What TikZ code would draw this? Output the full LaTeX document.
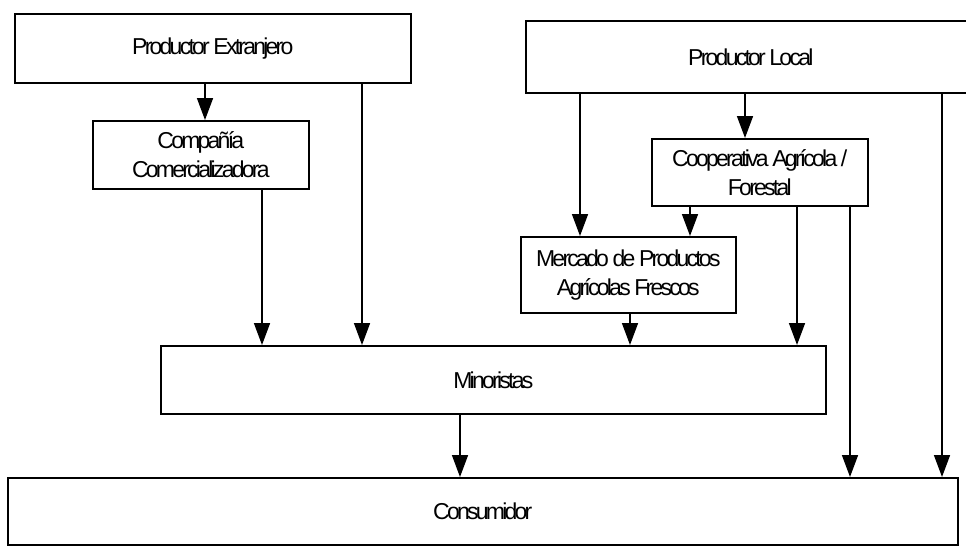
\documentclass[tikz,border=0pt]{standalone}
\usepackage{fontspec}
\setmainfont{Liberation Sans}[LetterSpace=-12]
\usetikzlibrary{arrows.meta}

\tikzset{
  box/.style={draw=black, line width=1.6pt, rectangle, anchor=north west,
    inner sep=0pt, align=center, font=\fontsize{23}{29}\selectfont},
  arr/.style={draw=black, line width=1.6pt,
    -{Triangle[width=16pt,length=22pt]}},
}

\begin{document}
\begin{tikzpicture}[x=1pt,y=-1pt]
\useasboundingbox (0,0) rectangle (966,557);

% boxes given by their north-west corner and size
\node[box, minimum width=396pt, minimum height=69pt] (pe)   at (14,13)  {Productor Extranjero};
\node[box, minimum width=216pt, minimum height=68pt] (cc)   at (92,120) {Compañía\\Comercializadora};
\node[box, minimum width=450pt, minimum height=72pt] (pl)   at (525,20) {Productor Local};
\node[box, minimum width=216pt, minimum height=67pt] (coop) at (651,138) {Cooperativa Agrícola /\\Forestal};
\node[box, minimum width=215pt, minimum height=76pt] (merc) at (520,236) {Mercado de Productos\\Agrícolas Frescos};
\node[box, minimum width=665pt, minimum height=68pt] (min)  at (160,345) {Minoristas};
\node[box, minimum width=950pt, minimum height=67pt] (cons) at (7,477)  {Consumidor};

% flows
\draw[arr] (pe.south -| 205,0)   -- (cc.north -| 205,0);
\draw[arr] (pe.south -| 362,0)   -- (min.north -| 362,0);
\draw[arr] (cc.south -| 262,0)   -- (min.north -| 262,0);
\draw[arr] (pl.south -| 580,0)   -- (merc.north -| 580,0);
\draw[arr] (pl.south -| 745,0)   -- (coop.north -| 745,0);
\draw[arr] (coop.south -| 690,0) -- (merc.north -| 690,0);
\draw[arr] (merc.south -| 630,0) -- (min.north -| 630,0);
\draw[arr] (coop.south -| 797,0) -- (min.north -| 797,0);
\draw[arr] (coop.south -| 850,0) -- (cons.north -| 850,0);
\draw[arr] (pl.south -| 942,0)   -- (cons.north -| 942,0);
\draw[arr] (min.south -| 460,0)  -- (cons.north -| 460,0);
\end{tikzpicture}
\end{document}
